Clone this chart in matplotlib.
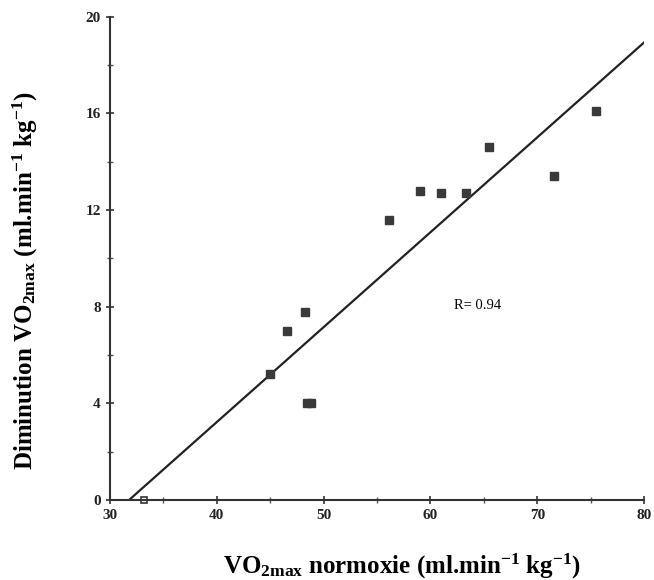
import matplotlib
matplotlib.use('Agg')
import matplotlib.pyplot as plt
import numpy as np

plt.rcParams['font.family'] = 'Liberation Serif'
plt.rcParams['mathtext.default'] = 'regular'

# VO2max in normoxia vs decrease of VO2max (ml.min-1 kg-1)
vo2_normoxie = np.array([45.0, 46.6, 48.3, 48.4, 48.8, 56.1, 59.0, 61.0, 63.3, 65.5, 71.6, 75.5])
diminution = np.array([5.2, 7.0, 7.8, 4.0, 4.0, 11.6, 12.8, 12.7, 12.7, 14.6, 13.4, 16.1])
# open marker
vo2_open = [33.2]
dim_open = [0.0]

# regression line
fit_slope = 0.393
fit_x0 = 31.8  # x where line crosses 0
fit_xmax = 80.0
r_text = 'R= 0.94'

fig = plt.figure(figsize=(6.54, 5.80), dpi=100)
ax = fig.add_axes([0.168, 0.138, 0.817, 0.833])

line_x = np.array([fit_x0, fit_xmax])
ax.plot(line_x, fit_slope * (line_x - fit_x0), color='#222222', lw=1.6)
ax.plot(vo2_normoxie, diminution, 's', color='#3a3a3a', ms=5.5)
ax.plot(vo2_open, dim_open, 's', mfc='white', mec='#333333', ms=5, mew=1.2, clip_on=False)

ax.text(64.4, 8.07, r_text, ha='center', va='center', fontsize=10.5)

ax.set_xlim(30, 80)
ax.set_ylim(0, 20)
ax.set_xticks(np.arange(30, 81, 10))
ax.set_xticks(np.arange(35, 80, 10), minor=True)
ax.set_yticks(np.arange(0, 21, 4))
ax.set_yticks(np.arange(2, 20, 4), minor=True)

for s in ['top', 'right']:
    ax.spines[s].set_visible(False)
for s in ['left', 'bottom']:
    ax.spines[s].set_linewidth(1.5)
    ax.spines[s].set_color('#333333')

ax.tick_params(which='major', direction='inout', length=6, width=1.2, colors='#333333',
               labelsize=11, labelcolor='#222222')
ax.tick_params(which='minor', direction='inout', length=4, width=1.0, colors='#555555')
for lab in ax.get_xticklabels() + ax.get_yticklabels():
    lab.set_fontweight('bold')

ax.set_xlabel('VO$_{2max}$ normoxie (ml.min$^{-1}$ kg$^{-1}$)', fontsize=18, fontweight='bold')
ax.set_ylabel('Diminution VO$_{2max}$ (ml.min$^{-1}$ kg$^{-1}$)', fontsize=18, fontweight='bold')
ax.xaxis.set_label_coords(0.547, -0.108)
ax.yaxis.set_label_coords(-0.13, 0.455)

fig.savefig('out.png', dpi=100)
